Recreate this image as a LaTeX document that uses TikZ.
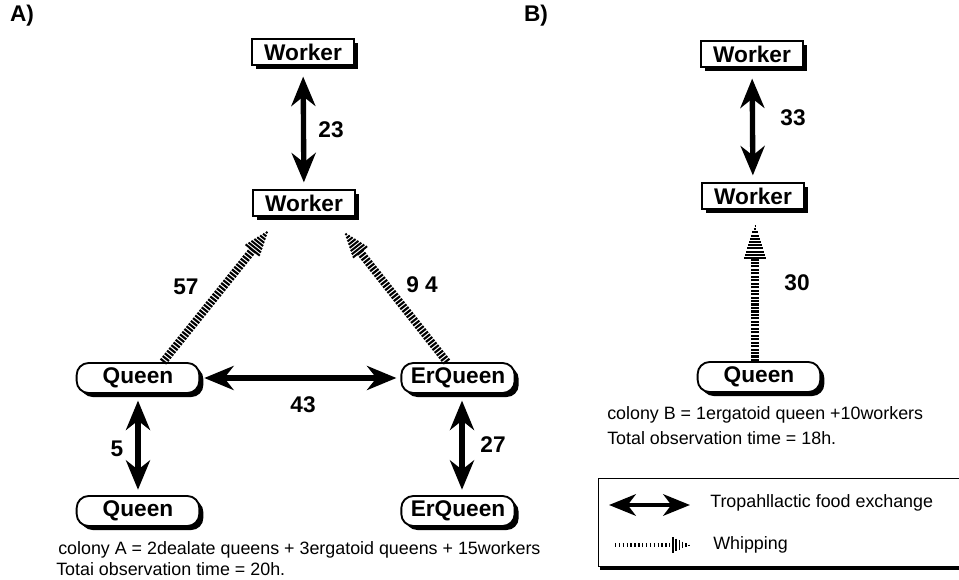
\documentclass[tikz,border=0pt]{standalone}
\usepackage{fontspec}
\setmainfont{Liberation Sans}
\usetikzlibrary{arrows.meta,calc,shadows}
% #1 tail, #2 tip, #3 body width, #4 head length (pt), #5 head half width (pt), #6 body dash, #7 head stripe width
\newcommand\whiparrow[7]{%
  \path let \p1=(#1), \p2=(#2) in \pgfextra{%
    \pgfmathsetmacro\wang{atan2(\y2-\y1,\x2-\x1)}%
    \pgfmathsetmacro\wlen{veclen(\x2-\x1,\y2-\y1)}%
    \xdef\wang{\wang}\xdef\wlen{\wlen}};
  \begin{scope}[shift={(#1)}, rotate=\wang]
    \draw[line width=#3, dash pattern=#6] (0pt,0pt) -- ({\wlen pt-#4pt},0pt);
    \pgfmathsetmacro\wn{int(#4/2.4)}
    \foreach \i in {0,...,\wn}{
      \pgfmathsetmacro\ws{\i*2.4}
      \pgfmathsetmacro\wh{#5*(1-\ws/#4)+0.3}
      \draw[line width=#7] ({\wlen pt-#4pt+\ws pt},\wh pt) -- ({\wlen pt-#4pt+\ws pt},-\wh pt);
    }
  \end{scope}
}
\begin{document}
\begin{tikzpicture}[x=0.75pt,y=-0.75pt,
  shad/.style={general shadow={fill=black, shadow xshift=3pt, shadow yshift=-3pt}},
  wbox/.style={shad, draw, fill=white, line width=1.4pt, minimum width=76pt, minimum height=19.5pt, inner sep=0pt, font=\bfseries\fontsize{17}{19}\selectfont},
  qbox/.style={wbox, rounded corners=9pt, minimum width=92pt, minimum height=22.5pt},
  ebox/.style={qbox, minimum width=85pt},
  num/.style={font=\bfseries\fontsize{17}{19}\selectfont, inner sep=0pt},
  lbl/.style={font=\bfseries\fontsize{17}{19}\selectfont, inner sep=0pt},
  captxt/.style={font=\fontsize{13.4}{15}\selectfont, anchor=west, inner sep=0pt},
  dbl/.style={line width=4pt, {Stealth[length=22pt,width=18pt,inset=7pt]}-{Stealth[length=22pt,width=18pt,inset=7pt]}},
]
\useasboundingbox (0,0) rectangle (959,580);

% panel labels
\node[lbl] (la) at (22,16) {A)};
\node[lbl] (lb) at (536,16) {B)};

% ---- panel A nodes
\node[wbox] (wt) at (303,52) {Worker};
\node[wbox] (wm) at (304,203) {Worker};
\node[qbox] (qa) at (138,378) {Queen};
\node[ebox] (ea) at (458,378) {ErQueen};
\node[qbox] (qb) at (138,511) {Queen};
\node[ebox] (eb) at (458,511) {ErQueen};

% ---- panel A connectors
\draw[dbl, shorten <=8pt, shorten >=5pt] (wt) -- (wm);
\draw[dbl, shorten <=3pt, shorten >=3pt] (qa) -- (ea);
\draw[dbl, shorten <=5pt, shorten >=4pt] (qa) -- (qb);
\draw[dbl, shorten <=5pt, shorten >=4pt] ($(ea.south)+(4,0)$) -- ($(eb.north)+(4,0)$);

\coordinate (w57a) at ($(qa.north)+(25,0)$);
\coordinate (w57b) at ($(wm.south)+(-36,14)$);
\coordinate (w94a) at ($(ea.north)+(-11,0)$);
\coordinate (w94b) at ($(wm.south)+(41,16)$);
\whiparrow{w57a}{w57b}{6pt}{18}{6.5}{on 1.6pt off 1pt}{1.5pt}
\whiparrow{w94a}{w94b}{6pt}{18}{6.5}{on 1.6pt off 1pt}{1.5pt}

\node[num] (n23) at (331,130) {23};
\node[num] (n57) at (186,287) {57};
\node[num] (n94) at (422,285) {9 4};
\node[num] (n43) at (303,405) {43};
\node[num] (n5) at (117,449) {5};
\node[num] (n27) at (493,445) {27};

\node[captxt] (ca1) at (58,550) {colony A = 2dealate queens + 3ergatoid queens + 15workers};
\node[captxt] (ca2) at (56,569) {Totai observation time = 20h.};

% ---- panel B
\node[wbox] (wbt) at (752,54) {Worker};
\node[wbox] (wbm) at (753,196) {Worker};
\node[qbox] (qbb) at (759,377) {Queen};
\draw[dbl, shorten <=8pt, shorten >=5pt] (wbt) -- (wbm);
\coordinate (w30a) at ($(qbb.north)+(-4,0)$);
\coordinate (w30b) at ($(wbm.south)+(2,16)$);
\whiparrow{w30a}{w30b}{6pt}{24}{8}{on 1.6pt off 1pt}{1.5pt}
\node[num] (n33) at (793,118) {33};
\node[num] (n30) at (797,283) {30};

\node[captxt] (cb1) at (607,415) {colony B = 1ergatoid queen +10workers};
\node[captxt] (cb2) at (607,438) {Total observation time = 18h.};

% ---- legend (right edge runs off the picture)
\node[draw, line width=0.8pt, general shadow={fill=black, shadow xshift=1pt, shadow yshift=-2.2pt}, fill=white, minimum width=275pt, minimum height=66.5pt, inner sep=0pt] (leg) at (781.5,522.5) {};
\coordinate (l1a) at (609,505);
\coordinate (l1b) at (690,505);
\draw[line width=3.5pt, {Stealth[length=20pt,width=16pt,inset=6pt]}-{Stealth[length=20pt,width=16pt,inset=6pt]}] (l1a) -- (l1b);
\node[captxt] (lt1) at (710,503) {Tropahllactic food exchange};
\coordinate (l2a) at (615,545);
\coordinate (l2b) at (689,545);
\whiparrow{l2a}{l2b}{3.5pt}{12}{5.5}{on 1pt off 1.9pt}{1.1pt}
\node[captxt] (lt2) at (713,545) {Whipping};
\end{tikzpicture}
\end{document}
